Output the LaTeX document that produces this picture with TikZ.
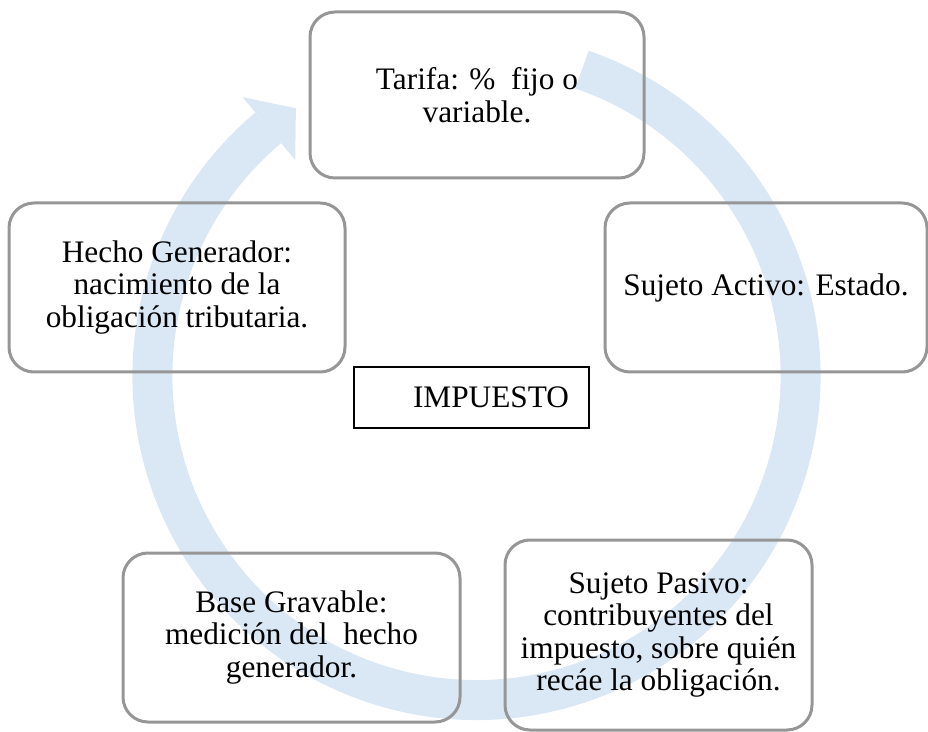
\documentclass[tikz,border=0pt]{standalone}
\usepackage{fontspec}
\setmainfont{Liberation Serif}
\usetikzlibrary{calc}
\definecolor{ringblue}{RGB}{218,231,245}
\definecolor{boxgray}{RGB}{150,150,150}
\tikzset{
	itembox/.style={draw=boxgray, line width=3pt, rounded corners=25pt, align=center, inner sep=0pt, font=\fontsize{31.3}{32.5}\selectfont},
	impbox/.style={draw=black, line width=1.5pt, inner xsep=20pt, inner ysep=0pt, minimum height=61pt, font=\fontsize{31.3}{32.5}\selectfont}
}

\begin{document}
\begin{tikzpicture}[x=1pt,y=1pt]
		%%%%% START %%%%%
		
		\useasboundingbox (0,0) rectangle (928,731);
		
		% cycle arrow behind the boxes
		\coordinate (c) at (476.5,355);
		\draw[ringblue, line width=40pt] ($(c)+(71:324)$) arc (71:-230:324);
		\fill[ringblue] ($(c)+(130:364)$) -- ($(c)+(124:323)$) -- ($(c)+(130:282)$) -- cycle;
		
		\node[itembox, minimum width=334pt, minimum height=166pt] (tarifa) at (477,636) {Tarifa: \%~ fijo o\\variable.};
		\node[itembox, minimum width=322pt, minimum height=169pt] (activo) at (766,443.5) {Sujeto Activo: Estado.};
		\node[itembox, minimum width=307pt, minimum height=190pt] (pasivo) at (658.5,96) {Sujeto Pasivo:\\contribuyentes del\\impuesto, sobre quién\\recáe la obligación.};
		\node[itembox, minimum width=337pt, minimum height=169pt] (base) at (291.5,93.5) {Base Gravable:\\medición del~ hecho\\generador.};
		\node[itembox, minimum width=336pt, minimum height=169pt] (hecho) at (177,443.5) {Hecho Generador:\\nacimiento de la\\obligación tributaria.};
		
		\node[impbox] (impuesto) at (471.5,333.5) {\hspace*{39pt}IMPUESTO};
		
		%%%%% END %%%%%
\end{tikzpicture}
\end{document}
